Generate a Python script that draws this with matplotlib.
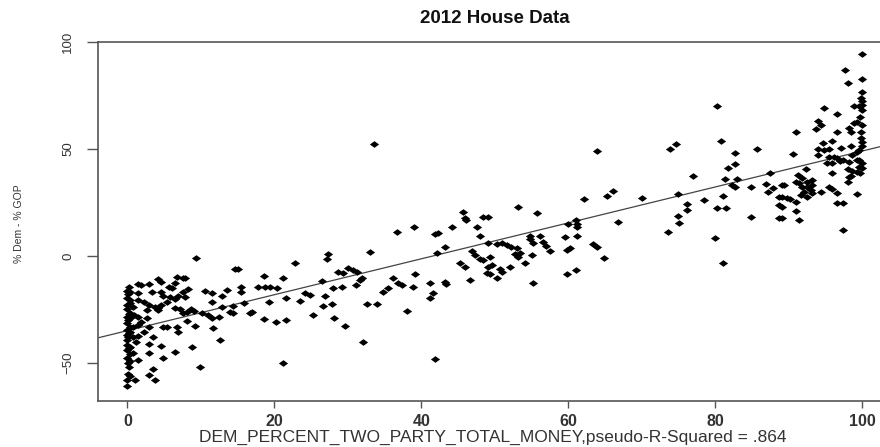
import matplotlib
matplotlib.use("Agg")
import matplotlib.pyplot as plt

plt.rcParams['font.family'] = ['Liberation Sans', 'DejaVu Sans']

# Democratic share of two-party money (%) and vote margin (% Dem - % GOP)
dem_money = [
    # districts with almost no Democratic money
    0, 0.4, 1.5, 0, 0.4, 1.4, 0, 0.7, 0, 0.3, 0.9, 0, 0.4, 1.4, 0, 0.7, 1.5,
    0, 0.4, 0.7, 1.4, 0, 0, 1.2, 0, 0.4, 0, 0.7, 0, 0.3, 1.4, 0.1, 0, 1, 0,
    0.2, 0.1, 0.3, 0.2, 0.1, 0.3, 0.2, 0.1, 0.2, 0.3, 0.1, 0.2, 0.3,
    # 1-15 %
    9.3, 14.7, 4.2, 4.5, 6.8, 7.9, 6.5, 1.4, 2.9, 5.6, 6.1, 8.3, 7.5, 10.6,
    11.5, 13.6, 3.4, 4.5, 4.8, 6.9, 7.9, 6.5, 5.8, 2.2, 12.9, 11.5, 2.9, 3.8,
    4.5, 5.4, 2.7, 4.1, 4.2, 6.5, 7.2, 8.6, 9.0, 7.6, 8.1, 10.2, 10.9, 11.5,
    12.4, 14.3, 2.7, 1.9, 8.1, 2.9, 4.8, 5.4, 6.8, 6.9, 9.2, 11.7, 3.5, 2.9,
    4.5, 8.8, 12.6, 2.9, 6.5, 4.9, 9.9, 3.5, 2.9, 3.8, 7.5, 1.9, 2.3,
    # 15-40 %
    15.1, 18.6, 21.2, 22.8, 17.7, 18.7, 19.4, 20.3, 15.4, 15.4, 15.8, 14.4,
    14.0, 12.9, 17.0, 19.2, 21.6, 23.5, 18.6, 20.2, 21.6, 21.2, 27.3, 27.2,
    33.0, 36.7, 39.0, 26.5, 28.7, 29.3, 30.0, 30.7, 31.2, 31.7, 31.9, 31.1,
    28.0, 29.2, 36.1, 36.8, 37.4, 39.1, 38.8, 34.8, 35.4, 26.9, 24.2, 24.9,
    26.6, 27.9, 32.6, 34.0, 25.3, 28.1, 29.6, 38.1, 32.1, 16.7, 33.6,
    # 40-66 %
    41.8, 42.3, 44.1, 46.0, 47.5, 48.0, 42.1, 43.2, 41.2, 41.6, 41.2, 43.2,
    43.4, 41.8, 45.2, 45.9, 46.6, 46.9, 47.3, 48.0, 48.4, 49.1, 49.3, 49.1,
    49.6, 48.9, 49.3, 50.3, 50.7, 50.9, 50.3, 50.9, 51.6, 52.2, 53.0, 52.7,
    53.4, 53.1, 52.0, 54.1, 54.8, 54.8, 55.2, 55.0, 56.2, 56.5, 56.9, 57.5,
    55.2, 59.5, 59.8, 60.2, 59.8, 61.1, 59.9, 61.0, 61.2, 61.2, 61.2, 63.3,
    63.9, 45.6, 45.9, 48.4, 49.1, 53.1, 55.7, 63.9, 66.0, 65.2, 62.1, 66.7,
    64.9,
    # 66-89 %
    80.2, 74.7, 73.8, 80.7, 82.7, 85.7, 82.6, 81.7, 76.9, 81.3, 83.0, 87.4,
    82.2, 82.6, 84.9, 86.9, 87.8, 87.1, 89.1, 88.7, 89.8, 89.0, 88.6, 70.0,
    74.9, 78.5, 81.0, 76.2, 76.1, 74.9, 75.1, 73.5, 80.2, 81.5, 84.8, 79.9,
    81.0,
    # 89-100 %
    100, 97.7, 98.0, 100, 100, 100, 100, 99.6, 98.9, 100, 94.8, 96.5, 93.9,
    94.4, 93.7, 91.0, 96.5, 98.2, 98.5, 99.3, 99.9, 98.9, 94.6, 95.9, 94.0,
    94.8, 95.5, 97.1, 98.5, 100, 100, 90.6, 93.9, 95.5, 96.2, 96.6, 97.3,
    98.6, 99.2, 99.6, 95.2, 95.9, 96.9, 98.2, 99.2, 99.9, 99.6, 99.9, 92.3,
    95.8, 98.0, 98.6, 99.3, 91.2, 91.8, 92.5, 93.2, 98.2, 98.0, 98.5, 89.3,
    91.0, 91.4, 91.8, 92.5, 93.2, 93.0, 93.2, 92.1, 91.7, 92.4, 95.5, 95.9,
    94.4, 96.6, 99.2, 89.0, 88.7, 89.0, 90.1, 91.0, 91.0, 91.4, 96.5, 97.3,
    97.3, 99.8, 99.7, 99.8, 99.5, 99.8, 99.7,
]
dem_margin = [
    -16.4, -16.8, -17.3, -19.6, -20.6, -20.6, -23, -24, -25, -26.7, -27.6,
    -28.5, -29, -28.5, -31.3, -33.2, -32.2, -34.6, -35.5, -37.8, -37.4, -36.9,
    -39.3, -40, -41.6, -42.5, -44, -45.3, -47.7, -49, -48.6, -55, -58, -58,
    -61, -14.5, -18, -22, -27, -30, -33, -36, -38, -43, -46, -50, -52, -56,
    -0.9, -6, -10.7, -12, -9.8, -10.3, -12.6, -13, -13, -14.5, -15, -15.4,
    -16.8, -16.4, -17.3, -15.9, -16.8, -16.8, -18.7, -18.7, -19, -20, -19,
    -21.5, -18.7, -21.5, -23, -24, -23, -21.5, -25.2, -24.3, -25.2, -24.3,
    -24.8, -24.8, -25.7, -26.6, -26.2, -26.6, -27.6, -29, -28.5, -26.6, -29,
    -30.8, -30.4, -33.2, -33, -33, -33, -35.5, -32.7, -33.6, -37.8, -41, -42,
    -42.5, -39.3, -45.3, -44.9, -47.7, -51.9, -52.8, -55.6, -58, -10.4, -13.5,
    -35.5,
    -6.1, -9.3, -10.4, -3.5, -14.5, -14.5, -14.5, -15, -14.5, -16.8, -22,
    -23.6, -26, -23.8, -26.3, -21.5, -19.6, -21.2, -29.5, -30.8, -29.7, -50,
    0.9, -1.4, 1.9, 11.2, 13.5, -11.5, -7.5, -8, -5.6, -6.5, -7.5, -11.2,
    -10.3, -13.6, -15, -14.5, -10.3, -12.6, -13.6, -8.6, -14.5, -16.8, -15,
    -18.5, -17.3, -18.2, -23.3, -22.4, -22.4, -22.4, -27.6, -29, -32.7, -25.7,
    -40.2, -26.6, 52.3,
    10.2, 10.7, 13.6, 16.8, 13.6, 9.4, 1.4, 4.2, -12.6, -17.3, -19.6, -12.1,
    -13.1, -48, -3.4, -5.1, -11.2, 2.3, 0.7, -1.4, -1.9, 6, -0.3, -5.1, -4.2,
    -7.9, -8.4, -10.3, -6.1, -7.5, 5.6, 6, 5.1, 4.2, 3.9, 0.9, 1.4, -0.5,
    -5.1, -3.3, 9.3, 7.9, 6.3, 0.5, 9.3, 6.5, 4.6, 2.5, -12.6, 8.9, 2.8, 3.7,
    -8.4, -6.5, 15, 16.8, 15, 13.6, 9.3, 5.6, 4.2, 20.6, 17.8, 18.2, 18.2,
    23, 20.1, 49, 30.4, 28, 26.6, 15.9, -0.9,
    70, 52.3, 50, 53.7, 48.1, 50, 43, 41.1, 37.4, 36, 36, 38.8, 33.2, 32.2,
    32.2, 33.6, 31.8, 29.9, 33.2, 27.6, 27.1, 22.9, 17.8, 27.1, 29, 26.2, 28,
    24.3, 21.5, 18.7, 15.4, 11.2, 22.4, 22.4, 18.2, 8.4, -3.3,
    94.4, 86.9, 80.8, 82.7, 76.6, 72.4, 70.6, 70, 70, 68.2, 69.2, 66.4, 63.1,
    61.2, 59.3, 57.9, 57.9, 59.8, 57.9, 62.6, 61.2, 62.1, 52.8, 53.7, 50,
    49.5, 50, 50.5, 51.4, 53.3, 51.4, 47.7, 47.2, 46.3, 46.3, 45.8, 44.9,
    47.2, 48.6, 49.5, 43.5, 43.5, 44.4, 43.9, 44.9, 43.5, 41.6, 41.1, 40.6,
    38.8, 40.6, 39.7, 39.3, 37.8, 36.4, 34.6, 35.5, 36.9, 34.6, 37.4, 33.2,
    34.6, 34.1, 32.2, 32.2, 33.2, 30.8, 29.4, 29.9, 28.5, 27.6, 32.2, 31.3,
    29.9, 29.4, 29, 27.6, 23.8, 17.8, 26.6, 25.2, 21, 16.8, 24.8, 24.8, 12.1,
    55, 65, 74, 45, 58, 39,
]

# fitted line (pseudo-R-squared .864)
fit_intercept = -34.9
fit_slope = 0.84

x_ticks = [0, 20, 40, 60, 80, 100]
y_ticks = [-50, 0, 50, 100]

fig = plt.figure(figsize=(8.8, 4.47), dpi=100)
# plot box runs past the right edge, like the cropped original
ax = fig.add_axes([0.1114, 0.1029, 0.902, 0.8038])

diamond = [(-1, 0), (0, 0.72), (1, 0), (0, -0.72), (-1, 0)]
n = min(len(dem_money), len(dem_margin))
ax.scatter(dem_money[:n], dem_margin[:n], marker=diamond, s=44, c='black',
           linewidths=0, zorder=3)
ax.axline((0, fit_intercept), slope=fit_slope, color='#444444', lw=0.9, zorder=2)

ax.set_xlim(-4, 104)
ax.set_ylim(-67.8, 100.2)
ax.set_xticks(x_ticks)
ax.set_yticks(y_ticks)
for s in ax.spines.values():
    s.set_color('#555555')
    s.set_linewidth(1.2)

ax.tick_params(axis='x', length=5, width=1, color='#555555', pad=4,
               labelsize=11.5, labelcolor='#333333')
ax.tick_params(axis='y', length=8, width=1, color='#555555', pad=9,
               labelsize=9.5, labelcolor='#333333')
for lab in ax.get_xticklabels():
    lab.set_fontweight('bold')
plt.setp(ax.get_yticklabels(), rotation=90, va='center')

fig.text(0.5625, 0.958, "2012 House Data", ha='center', va='center',
         fontsize=13.5, fontweight='bold', color='#111111')
fig.text(0.5600, 0.022, "DEM_PERCENT_TWO_PARTY_TOTAL_MONEY,pseudo-R-Squared = .864",
         ha='center', va='center', fontsize=12.5, color='#333333')
fig.text(0.022, 0.50, "% Dem - % GOP", ha='center', va='center', rotation=90,
         fontsize=7.5, color='#333333')

fig.savefig("out.png", dpi=100, facecolor='white')
